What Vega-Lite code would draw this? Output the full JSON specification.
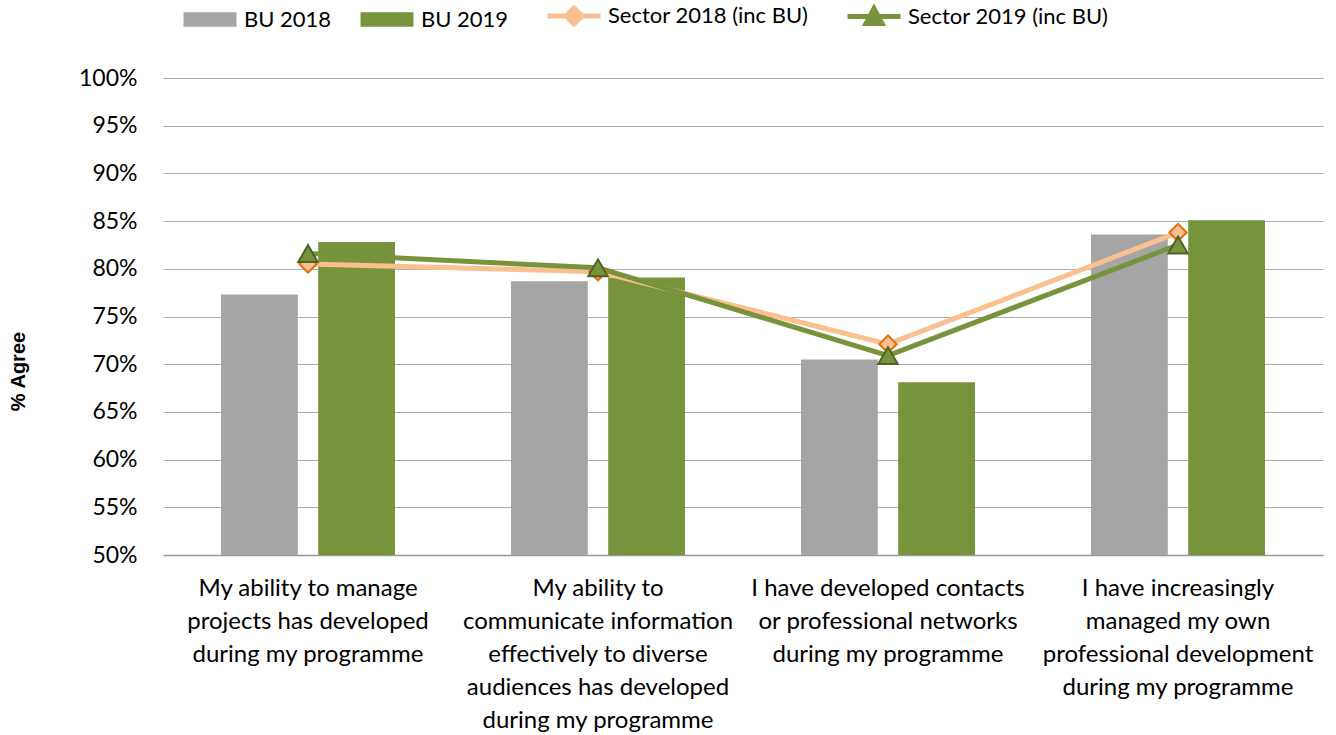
{
  "$schema": "https://vega.github.io/schema/vega-lite/v6.json",
  "width": 1160,
  "height": 477,
  "autosize": {"type": "none"},
  "padding": {"left": 163, "top": 78, "right": 13, "bottom": 180},
  "background": "white",
  "config": {
    "view": {"stroke": null},
    "font": "Lato",
    "axis": {"labelFont": "Lato", "labelColor": "#000000"}
  },
  "data": {
    "values": [
      {"cat": "My ability to manage|projects has developed|during my programme", "series": "BU 2018", "value": 0.773},
      {"cat": "My ability to manage|projects has developed|during my programme", "series": "BU 2019", "value": 0.828},
      {"cat": "My ability to manage|projects has developed|during my programme", "series": "Sector 2018 (inc BU)", "value": 0.805},
      {"cat": "My ability to manage|projects has developed|during my programme", "series": "Sector 2019 (inc BU)", "value": 0.816},
      {"cat": "My ability to|communicate information|effectively to diverse|audiences has developed|during my programme", "series": "BU 2018", "value": 0.787},
      {"cat": "My ability to|communicate information|effectively to diverse|audiences has developed|during my programme", "series": "BU 2019", "value": 0.791},
      {"cat": "My ability to|communicate information|effectively to diverse|audiences has developed|during my programme", "series": "Sector 2018 (inc BU)", "value": 0.797},
      {"cat": "My ability to|communicate information|effectively to diverse|audiences has developed|during my programme", "series": "Sector 2019 (inc BU)", "value": 0.801},
      {"cat": "I have developed contacts|or professional networks|during my programme", "series": "BU 2018", "value": 0.705},
      {"cat": "I have developed contacts|or professional networks|during my programme", "series": "BU 2019", "value": 0.681},
      {"cat": "I have developed contacts|or professional networks|during my programme", "series": "Sector 2018 (inc BU)", "value": 0.721},
      {"cat": "I have developed contacts|or professional networks|during my programme", "series": "Sector 2019 (inc BU)", "value": 0.709},
      {"cat": "I have increasingly|managed my own|professional development|during my programme", "series": "BU 2018", "value": 0.836},
      {"cat": "I have increasingly|managed my own|professional development|during my programme", "series": "BU 2019", "value": 0.851},
      {"cat": "I have increasingly|managed my own|professional development|during my programme", "series": "Sector 2018 (inc BU)", "value": 0.838},
      {"cat": "I have increasingly|managed my own|professional development|during my programme", "series": "Sector 2019 (inc BU)", "value": 0.825}
    ]
  },
  "encoding": {
    "x": {
      "field": "cat",
      "type": "nominal",
      "sort": null,
      "scale": {"paddingInner": 0.4, "paddingOuter": 0.2},
      "axis": {
        "title": null,
        "labelAngle": 0,
        "labelExpr": "split(datum.label, '|')",
        "labelFontSize": 24,
        "labelLineHeight": 33,
        "labelPadding": 21,
        "labelBaseline": "top",
        "labelLimit": 400,
        "ticks": false,
        "domainColor": "#999999",
        "domainWidth": 1.5,
        "grid": false
      }
    },
    "y": {
      "field": "value",
      "type": "quantitative",
      "scale": {"domain": [0.5, 1], "zero": false, "nice": false},
      "axis": {
        "title": "% Agree",
        "titleFont": "Liberation Sans",
        "titleFontSize": 20,
        "titleFontWeight": "bold",
        "titleColor": "#000000",
        "titleX": -135,
        "titleY": 293,
        "titleAngle": -90,
        "titleAlign": "center",
        "titleBaseline": "bottom",
        "values": [0.5, 0.55, 0.6, 0.65, 0.7, 0.75, 0.8, 0.85, 0.9, 0.95, 1.0],
        "format": ".0%",
        "labelFontSize": 23,
        "labelPadding": 26,
        "ticks": false,
        "domain": false,
        "grid": true,
        "gridColor": "#ADADAD",
        "gridWidth": 1
      }
    }
  },
  "layer": [
    {
      "transform": [{"filter": "datum.series == 'BU 2018' || datum.series == 'BU 2019'"}],
      "mark": {"type": "bar"},
      "encoding": {
        "xOffset": {"field": "series", "type": "nominal", "scale": {"paddingInner": 0.21, "paddingOuter": 0}},
        "y2": {"datum": 0.5},
        "color": {
          "field": "series",
          "type": "nominal",
          "scale": {
            "domain": ["BU 2018", "BU 2019", "Sector 2018 (inc BU)", "Sector 2019 (inc BU)"],
            "range": ["#A5A5A5", "#77933C", "#FAC090", "#77933C"]
          },
          "legend": {
            "orient": "none",
            "direction": "horizontal",
            "legendX": 36,
            "legendY": -73,
            "title": null,
            "padding": 0,
            "labelFont": "Lato",
            "labelFontSize": 22,
            "labelColor": "#000000",
            "labelOffset": 23,
            "labelLimit": 400,
            "columnPadding": 28,
            "symbolSize": 2800,
            "symbolOffset": 0,
            "encode": {
              "symbols": {
                "update": {
                  "shape": {"signal": "(datum.value == 'BU 2018' || datum.value == 'BU 2019') ? 'M-1,-0.27H1V0.27H-1Z' : (datum.value == 'Sector 2018 (inc BU)' ? 'M-1,0H1M0,-0.3L0.3,0L0,0.3L-0.3,0Z' : 'M-1,0H1M-0.3,0.26L0,-0.3L0.3,0.26Z')"},
                  "strokeWidth": {"signal": "(datum.value == 'BU 2018' || datum.value == 'BU 2019') ? 0 : 5"},
                  "fill": {"scale": "color", "field": "value"},
                  "stroke": {"scale": "color", "field": "value"},
                  "opacity": {"value": 1},
                  "fillOpacity": {"value": 1},
                  "strokeOpacity": {"value": 1}
                }
              }
            }
          }
        }
      }
    },
    {
      "transform": [{"filter": "datum.series != 'BU 2018' && datum.series != 'BU 2019'"}],
      "mark": {"type": "line", "strokeWidth": 5},
      "encoding": {
        "color": {"field": "series", "type": "nominal"},
        "order": {"field": "series"}
      }
    },
    {
      "transform": [{"filter": "datum.series == 'Sector 2018 (inc BU)'"}],
      "mark": {"type": "point", "shape": "diamond", "size": 300, "filled": true, "fill": "#FAC090", "stroke": "#E46C0A", "strokeWidth": 2, "opacity": 1},
      "encoding": {}
    },
    {
      "transform": [{"filter": "datum.series == 'Sector 2019 (inc BU)'"}],
      "mark": {"type": "point", "shape": "triangle-up", "size": 380, "filled": true, "fill": "#77933C", "stroke": "#4F6228", "strokeWidth": 2, "opacity": 1},
      "encoding": {}
    }
  ]
}
